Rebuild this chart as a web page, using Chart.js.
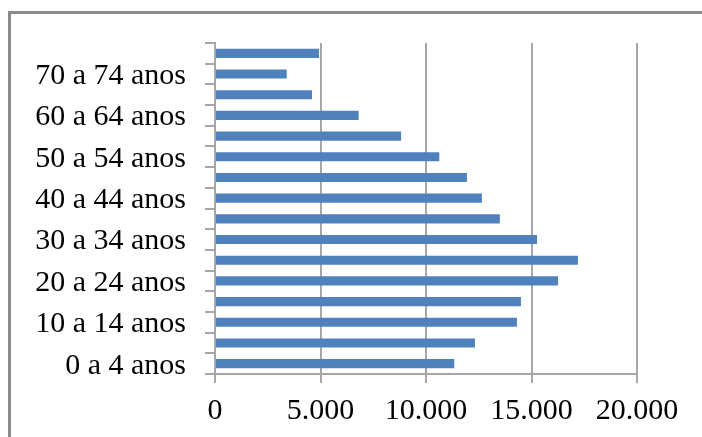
<!DOCTYPE html>
<html>
<head>
<meta charset="utf-8">
<script src="https://cdn.jsdelivr.net/npm/chart.js@4"></script>
<style>
  html, body { margin: 0; padding: 0; background: #fff; overflow: hidden; }
  #wrap { position: relative; width: 702px; height: 437px; }
  #frame {
    position: absolute; left: 8px; top: 11px; width: 800px; height: 500px;
    border: 3px solid #8a8a8a;
  }
  canvas { position: absolute; left: 0; top: 0; }
</style>
</head>
<body>
<div id="wrap">
  <div id="frame"></div>
  <canvas id="myChartBar" width="702" height="437"></canvas>
</div>
<script>
// age groups, bottom to top
const faixas = [
  '0 a 4 anos', '5 a 9 anos', '10 a 14 anos', '15 a 19 anos',
  '20 a 24 anos', '25 a 29 anos', '30 a 34 anos', '35 a 39 anos',
  '40 a 44 anos', '45 a 49 anos', '50 a 54 anos', '55 a 59 anos',
  '60 a 64 anos', '65 a 69 anos', '70 a 74 anos', '75 anos e mais'
];
const populacao = [
  11340, 12320, 14310, 14500,
  16260, 17200, 15260, 13500,
  12650, 11940, 10630, 8820,
  6810, 4600, 3400, 4930
];
const xTicks = [0, 5000, 10000, 15000, 20000];

const labelFont = { family: "'Liberation Serif', 'Times New Roman', serif", size: 30 };
const gridColor = '#a6a6a6';

const ctx = document.getElementById('myChartBar');
const myChartBar = new Chart(ctx, {
  type: 'bar',
  data: {
    labels: faixas,
    datasets: [{
      data: populacao,
      backgroundColor: '#4f81bd',
      borderWidth: 0,
      barPercentage: 0.44,
      categoryPercentage: 1
    }]
  },
  options: {
    indexAxis: 'y',
    responsive: false,
    animation: false,
    layout: { padding: { top: 43, right: 65, left: 0, bottom: 0 } },
    plugins: { legend: false, tooltip: { enabled: false } },
    scales: {
      y: {
        reverse: true,
        grid: { offset: true, drawOnChartArea: false, color: gridColor, lineWidth: 2, tickLength: 10 },
        border: { color: gridColor, width: 2 },
        ticks: {
          autoSkip: false,
          color: '#000',
          font: labelFont,
          padding: 19,
          labelOffset: 2,
          callback: function (v, i) { return i % 2 === 0 ? faixas[i] : ''; }
        },
        afterFit: function (scale) { scale.width = 215; }
      },
      x: {
        min: 0,
        max: 20000,
        afterBuildTicks: function (scale) { scale.ticks = xTicks.map(v => ({ value: v })); },
        grid: { color: gridColor, lineWidth: 2, tickLength: 9 },
        border: { color: gridColor, width: 2 },
        ticks: {
          color: '#000',
          font: labelFont,
          padding: 10,
          maxRotation: 0,
          callback: function (v) { return v === 0 ? '0' : v.toLocaleString('de-DE'); }
        },
        afterFit: function (scale) { scale.height = 63; }
      }
    }
  }
});
</script>
</body>
</html>
